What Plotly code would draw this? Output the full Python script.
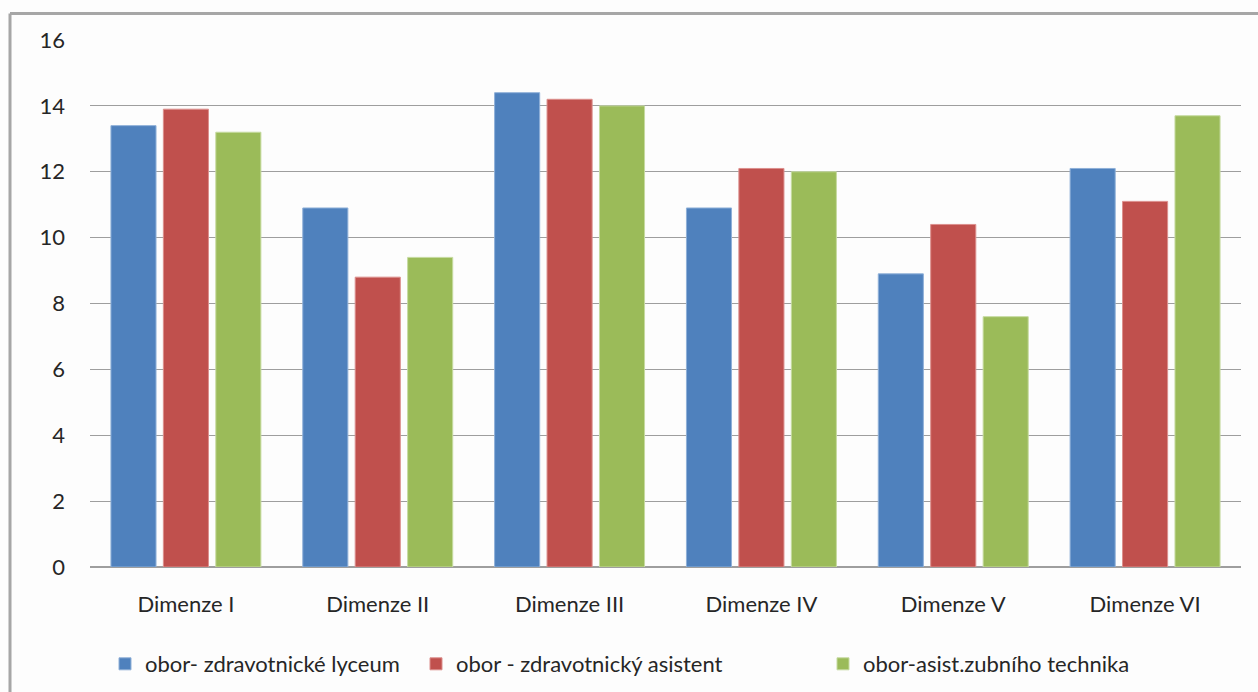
import plotly.graph_objects as go

categories = ["Dimenze I", "Dimenze II", "Dimenze III", "Dimenze IV", "Dimenze V", "Dimenze VI"]
lyceum = [13.4, 10.9, 14.4, 10.9, 8.9, 12.1]
asistent = [13.9, 8.8, 14.2, 12.1, 10.4, 11.1]
zubni = [13.2, 9.4, 14.0, 12.0, 7.6, 13.7]
series_names = [
    "obor- zdravotnické lyceum",
    "obor - zdravotnický asistent",
    "obor-asist.zubního technika",
]
y_ticks = [0, 2, 4, 6, 8, 10, 12, 14, 16]

colors = ["#4f81bd", "#c0504d", "#9bbb59"]
edges = ["#8fb0d8", "#dc8f8d", "#c6dba0"]

W, H = 1258, 692
ml, mr, mt, mb = 90, 17, 40, 125
pw, ph = W - ml - mr, H - mt - mb

def px_x(p):
    return (p - ml) / pw

def px_y(p):
    return 1 - (p - mt) / ph

# one legend per series so each entry can sit at its own spot
legend_ids = ["legend", "legend2", "legend3"]
legend_left = [119, 430, 837]

fig = go.Figure()
for name, vals, c, e, lg in zip(series_names, [lyceum, asistent, zubni], colors, edges, legend_ids):
    fig.add_trace(go.Bar(
        x=categories, y=vals, name=name, legend=lg,
        marker=dict(color=c, line=dict(color=e, width=1)),
    ))

border = "#a6a6a6"
fig.add_shape(type="line", xref="paper", yref="paper",
              x0=px_x(10), x1=px_x(W + 5), y0=px_y(13.5), y1=px_y(13.5),
              line=dict(color=border, width=3))
fig.add_shape(type="line", xref="paper", yref="paper",
              x0=px_x(10), x1=px_x(10), y0=px_y(13.5), y1=px_y(H + 5),
              line=dict(color=border, width=3))

font_family = "Lato, 'Open Sans', sans-serif"
fsize = 22
legend_common = dict(orientation="h", yanchor="middle", y=px_y(664), xanchor="left",
                     font=dict(size=fsize, color="#262626"), itemwidth=30,
                     bgcolor="rgba(0,0,0,0)")
legend_layout = {lg: dict(legend_common, x=px_x(left - 14))
                 for lg, left in zip(legend_ids, legend_left)}

fig.update_layout(
    width=W, height=H,
    margin=dict(l=ml, r=mr, t=mt, b=mb, autoexpand=False),
    paper_bgcolor="#fdfdfd", plot_bgcolor="#fdfdfd",
    barmode="group", bargap=0.18, bargroupgap=0.14,
    font=dict(family=font_family, size=fsize, color="#262626"),
    showlegend=True,
    xaxis=dict(showgrid=False, showline=False, ticks="", ticklabelstandoff=22,
               tickfont=dict(size=fsize)),
    yaxis=dict(range=[0, 16], tickvals=y_ticks, showgrid=True, gridcolor="#9e9e9e",
               gridwidth=1, zeroline=True, zerolinecolor="#9e9e9e", zerolinewidth=2,
               showline=False, ticks="", ticklabelstandoff=24,
               tickfont=dict(size=fsize)),
    **legend_layout,
)

fig.write_html("out.html")
